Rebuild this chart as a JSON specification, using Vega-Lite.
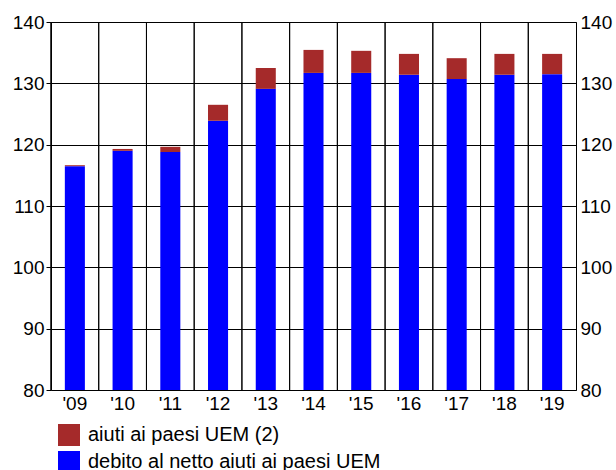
{
  "$schema": "https://vega.github.io/schema/vega-lite/v6.json",
  "autosize": {"type": "none"},
  "width": 525,
  "height": 368,
  "padding": {"left": 51, "top": 22, "right": 40, "bottom": 80},
  "background": "white",
  "config": {
    "font": "Liberation Sans",
    "view": {"stroke": "black", "strokeWidth": 1},
    "axis": {"labelFont": "Liberation Sans", "labelColor": "black"}
  },
  "data": {
    "values": [
      {"anno": "'09", "serie": "debito al netto aiuti ai paesi UEM", "valore": 116.5},
      {"anno": "'09", "serie": "aiuti ai paesi UEM (2)", "valore": 0.15},
      {"anno": "'10", "serie": "debito al netto aiuti ai paesi UEM", "valore": 119.0},
      {"anno": "'10", "serie": "aiuti ai paesi UEM (2)", "valore": 0.3},
      {"anno": "'11", "serie": "debito al netto aiuti ai paesi UEM", "valore": 118.8},
      {"anno": "'11", "serie": "aiuti ai paesi UEM (2)", "valore": 0.85},
      {"anno": "'12", "serie": "debito al netto aiuti ai paesi UEM", "valore": 123.9},
      {"anno": "'12", "serie": "aiuti ai paesi UEM (2)", "valore": 2.6},
      {"anno": "'13", "serie": "debito al netto aiuti ai paesi UEM", "valore": 129.1},
      {"anno": "'13", "serie": "aiuti ai paesi UEM (2)", "valore": 3.4},
      {"anno": "'14", "serie": "debito al netto aiuti ai paesi UEM", "valore": 131.7},
      {"anno": "'14", "serie": "aiuti ai paesi UEM (2)", "valore": 3.75},
      {"anno": "'15", "serie": "debito al netto aiuti ai paesi UEM", "valore": 131.7},
      {"anno": "'15", "serie": "aiuti ai paesi UEM (2)", "valore": 3.6},
      {"anno": "'16", "serie": "debito al netto aiuti ai paesi UEM", "valore": 131.4},
      {"anno": "'16", "serie": "aiuti ai paesi UEM (2)", "valore": 3.4},
      {"anno": "'17", "serie": "debito al netto aiuti ai paesi UEM", "valore": 130.7},
      {"anno": "'17", "serie": "aiuti ai paesi UEM (2)", "valore": 3.4},
      {"anno": "'18", "serie": "debito al netto aiuti ai paesi UEM", "valore": 131.4},
      {"anno": "'18", "serie": "aiuti ai paesi UEM (2)", "valore": 3.4},
      {"anno": "'19", "serie": "debito al netto aiuti ai paesi UEM", "valore": 131.5},
      {"anno": "'19", "serie": "aiuti ai paesi UEM (2)", "valore": 3.3}
    ]
  },
  "layer": [
    {
      "mark": {"type": "rule", "color": "black", "strokeWidth": 1},
      "encoding": {
        "x": {"field": "anno", "type": "ordinal", "bandPosition": 0, "axis": null}
      }
    },
    {
      "mark": {"type": "bar", "clip": true, "width": {"band": 0.42}},
      "encoding": {
        "x": {
          "field": "anno",
          "type": "ordinal",
          "title": null,
          "scale": {"paddingInner": 0, "paddingOuter": 0},
          "axis": {
            "orient": "bottom",
            "labelAngle": 0,
            "labelFontSize": 19,
            "labelBaseline": "top",
            "labelAlign": "center",
            "ticks": false,
            "domain": false,
            "labelPadding": 4,
            "grid": false
          }
        },
        "y": {
          "field": "valore",
          "type": "quantitative",
          "stack": "zero",
          "title": null,
          "scale": {"domain": [80, 140], "nice": false, "zero": false},
          "axis": {
            "values": [80, 90, 100, 110, 120, 130, 140],
            "labelFontSize": 19,
            "grid": true,
            "gridColor": "black",
            "gridOpacity": 1,
            "gridWidth": 1,
            "domain": false,
            "ticks": true,
            "tickSize": 5,
            "tickColor": "black",
            "labelPadding": 2
          }
        },
        "color": {
          "field": "serie",
          "type": "nominal",
          "scale": {
            "domain": ["aiuti ai paesi UEM (2)", "debito al netto aiuti ai paesi UEM"],
            "range": ["#A52A2A", "#0000FF"]
          },
          "legend": {
            "title": null,
            "orient": "none",
            "legendX": 7,
            "legendY": 402,
            "direction": "vertical",
            "symbolType": "square",
            "symbolSize": 484,
            "symbolStrokeWidth": 0,
            "symbolOpacity": 1,
            "labelFontSize": 20,
            "labelColor": "black",
            "labelOffset": 8,
            "rowPadding": 5,
            "labelLimit": 500
          }
        },
        "order": {"field": "serie", "sort": "descending"}
      }
    },
    {
      "mark": {"type": "rule", "opacity": 0},
      "encoding": {
        "y": {
          "field": "valore",
          "type": "quantitative",
          "axis": {
            "orient": "right",
            "values": [80, 90, 100, 110, 120, 130, 140],
            "labelFontSize": 19,
            "grid": false,
            "domain": false,
            "ticks": false,
            "labelPadding": 4,
            "title": null
          }
        }
      }
    }
  ],
  "resolve": {"axis": {"y": "independent", "x": "independent"}}
}
